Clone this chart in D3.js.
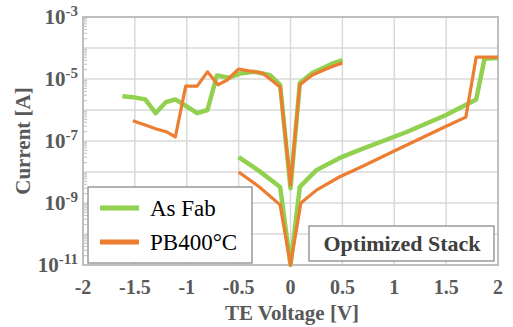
<!DOCTYPE html>
<html><head><meta charset="utf-8">
<script src="https://cdn.jsdelivr.net/npm/d3@7"></script>
<style>body{margin:0;background:#fff}svg{display:block}</style>
</head><body>
<script>
// Data
const xTicks = [-2, -1.5, -1, -0.5, 0, 0.5, 1, 1.5, 2];
const xTickLabels = ["-2", "-1.5", "-1", "-0.5", "0", "0.5", "1", "1.5", "2"];
const yTickExps = [-3, -5, -7, -9, -11];
const yGridExps = [-3, -4, -5, -6, -7, -8, -9, -10, -11];

const asFabUpperV = [-1.62, -1.52, -1.40, -1.30, -1.20, -1.11, -1.00, -0.90, -0.80, -0.71, -0.59, -0.49, -0.35, -0.20, -0.10, 0, 0.09, 0.21, 0.39, 0.50];
const asFabUpperI = [2.8e-6, 2.6e-6, 2.2e-6, 7.9e-7, 1.8e-6, 2.2e-6, 1.3e-6, 7.9e-7, 1.0e-6, 1.3e-5, 1.1e-5, 1.5e-5, 1.7e-5, 1.35e-5, 6.5e-6, 3.0e-9, 7.4e-6, 1.55e-5, 3.0e-5, 4.1e-5];
const pb400UpperV = [-1.52, -1.40, -1.30, -1.19, -1.11, -1.01, -0.90, -0.80, -0.70, -0.61, -0.50, -0.39, -0.27, -0.10, 0, 0.09, 0.21, 0.39, 0.50];
const pb400UpperI = [4.5e-7, 3.3e-7, 2.5e-7, 1.95e-7, 1.35e-7, 5.9e-6, 5.9e-6, 1.7e-5, 6.5e-6, 9.3e-6, 2.1e-5, 1.8e-5, 1.55e-5, 5.5e-6, 3.8e-9, 6.5e-6, 1.35e-5, 2.45e-5, 3.3e-5];
const asFabLowerV = [-0.50, -0.30, -0.10, 0, 0.09, 0.25, 0.47, 0.66, 1.12, 1.50, 1.79, 1.87, 2.0];
const asFabLowerI = [3.0e-8, 1.07e-8, 3.3e-9, 1e-11, 3.3e-9, 1.15e-8, 2.8e-8, 5.1e-8, 1.95e-7, 6.9e-7, 2.2e-6, 4.5e-5, 4.8e-5];
const pb400LowerV = [-0.50, -0.30, -0.10, 0, 0.10, 0.25, 0.47, 0.66, 1.02, 1.50, 1.69, 1.79, 2.0];
const pb400LowerI = [1.0e-8, 3.3e-9, 8.7e-10, 1e-11, 1.0e-9, 2.6e-9, 6.9e-9, 1.35e-8, 5.1e-8, 3.0e-7, 5.9e-7, 5.1e-5, 5.1e-5];

const seriesNames = ["As Fab", "PB400°C"];
const colors = ["#92d050", "#ed7d31"];

const W = 513, H = 327;
const svg = d3.select("body").append("svg").attr("width", W).attr("height", H);
const L = 83, R = 498, T = 17, B = 265;
const x = d3.scaleLinear().domain([-2, 2]).range([L, R]);
const y = d3.scaleLog().domain([1e-11, 1e-3]).range([B, T]);

// grid
svg.append("g").selectAll("line").data(xTicks).join("line")
  .attr("x1", d => x(d)).attr("x2", d => x(d)).attr("y1", T).attr("y2", B)
  .attr("stroke", "#d9d9d9").attr("stroke-width", 1.5);
svg.append("g").selectAll("line").data(yGridExps).join("line")
  .attr("x1", L).attr("x2", R).attr("y1", d => y(Math.pow(10, d))).attr("y2", d => y(Math.pow(10, d)))
  .attr("stroke", "#d9d9d9").attr("stroke-width", 1.5);
// minor ticks on left axis
const minor = [];
for (let e = -11; e < -3; e++) for (let k = 2; k <= 9; k++) minor.push(k * Math.pow(10, e));
svg.append("g").selectAll("line").data(minor).join("line")
  .attr("x1", L).attr("x2", L + 4).attr("y1", d => y(d)).attr("y2", d => y(d))
  .attr("stroke", "#bfbfbf").attr("stroke-width", 1);
// border
svg.append("rect").attr("x", L).attr("y", T).attr("width", R - L).attr("height", B - T)
  .attr("fill", "none").attr("stroke", "#bfbfbf").attr("stroke-width", 2);

// lines
const line = d3.line().x(d => x(d[0])).y(d => y(d[1]));
const zip = (a, b) => a.map((v, i) => [v, b[i]]);
const curves = [
  [zip(asFabUpperV, asFabUpperI), 0], [zip(asFabLowerV, asFabLowerI), 0],
  [zip(pb400UpperV, pb400UpperI), 1], [zip(pb400LowerV, pb400LowerI), 1]
];
curves.forEach(([pts, s]) => {
  svg.append("path").attr("d", line(pts)).attr("fill", "none")
    .attr("stroke", colors[s]).attr("stroke-width", s === 0 ? 4.5 : 3.2)
    .attr("stroke-linejoin", "round");
});

// x tick labels
svg.append("g").selectAll("text").data(xTicks).join("text")
  .attr("x", d => x(d)).attr("y", 294).attr("text-anchor", "middle")
  .attr("font-family", "Liberation Serif").attr("font-weight", "bold").attr("font-size", 20)
  .attr("fill", "#595959").text((d, i) => xTickLabels[i]);
// y tick labels
const yt = svg.append("g").selectAll("text").data(yTickExps).join("text")
  .attr("x", 78).attr("y", d => y(Math.pow(10, d)) + 7).attr("text-anchor", "end")
  .attr("font-family", "Liberation Serif").attr("font-weight", "bold").attr("font-size", 21)
  .attr("fill", "#595959");
yt.append("tspan").text("10");
yt.append("tspan").attr("dy", -8).attr("font-size", 15).text(d => String(d));

// axis titles
svg.append("text").attr("x", 292).attr("y", 320).attr("text-anchor", "middle")
  .attr("font-family", "Liberation Serif").attr("font-weight", "bold").attr("font-size", 21)
  .attr("fill", "#595959").text("TE Voltage [V]");
svg.append("text").attr("transform", "translate(30,141) rotate(-90)").attr("text-anchor", "middle")
  .attr("font-family", "Liberation Serif").attr("font-weight", "bold").attr("font-size", 21)
  .attr("fill", "#595959").text("Current [A]");

// legend
const lg = svg.append("g");
lg.append("rect").attr("x", 88).attr("y", 187).attr("width", 164).attr("height", 76)
  .attr("fill", "#fff").attr("stroke", "#808080").attr("stroke-width", 1.2);
seriesNames.forEach((n, i) => {
  const cy = 208 + i * 34;
  lg.append("line").attr("x1", 100).attr("x2", 139).attr("y1", cy).attr("y2", cy)
    .attr("stroke", colors[i]).attr("stroke-width", 5);
  lg.append("text").attr("x", 150).attr("y", cy + 8)
    .attr("font-family", "Liberation Serif").attr("font-size", 23).attr("fill", "#000").text(n);
});

// annotation box
svg.append("rect").attr("x", 309).attr("y", 226).attr("width", 185).attr("height", 35)
  .attr("fill", "#fff").attr("stroke", "#808080").attr("stroke-width", 1.2);
svg.append("text").attr("x", 402).attr("y", 251).attr("text-anchor", "middle")
  .attr("font-family", "Liberation Serif").attr("font-weight", "bold").attr("font-size", 22)
  .attr("fill", "#404040").text("Optimized Stack");
</script>
</body></html>
